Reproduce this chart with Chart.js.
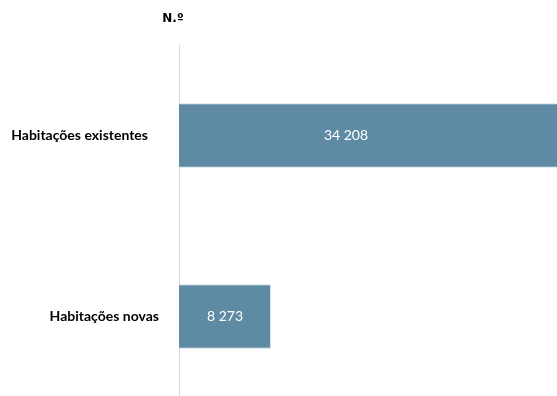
<!DOCTYPE html>
<html>
<head>
<meta charset="utf-8">
<script src="https://cdn.jsdelivr.net/npm/chart.js@4"></script>
<style>
    html, body { margin: 0; padding: 0; background: #fff; overflow: hidden; }
    #wrap { width: 557px; height: 407px; position: relative; }
</style>
</head>
<body>
<div id="wrap"><canvas id="chart"></canvas></div>
<script>
// Data
const categories = ['Habitações existentes', 'Habitações novas'];
const values = [34208, 8273];
const unitLabel = 'N.º';

const BAR_BLUE = '#5e8aa3';
const FONT = 'Lato, "Open Sans", sans-serif';

// format numbers with a space as thousands separator
function formatNumber(n) {
    return String(n).replace(/\B(?=(\d{3})+(?!\d))/g, ' ');
}

// Draws category names, value labels and the unit label
const labelsPlugin = {
    id: 'labelsPlugin',
    afterDatasetsDraw(chart, args, opts) {
        const ctx = chart.ctx;
        const meta = chart.getDatasetMeta(0);
        ctx.save();

        // unit label above the axis
        ctx.fillStyle = '#000';
        ctx.font = 'bold 12px "DejaVu Sans", sans-serif';
        ctx.textAlign = 'center';
        ctx.textBaseline = 'middle';
        ctx.fillText(unitLabel, opts.unitX, opts.unitY);

        meta.data.forEach((bar, i) => {
            // category name
            ctx.fillStyle = '#000';
            ctx.font = 'bold 14px ' + FONT;
            ctx.textAlign = 'right';
            ctx.fillText(categories[i], opts.labelRight[i], bar.y);

            // value inside the bar
            const right = Math.min(bar.x, chart.chartArea.right);
            const cx = (bar.base + right) / 2 + (opts.valueShift[i] || 0);
            ctx.fillStyle = '#fff';
            ctx.font = '14px ' + FONT;
            ctx.textAlign = 'center';
            ctx.fillText(formatNumber(values[i]), cx, bar.y);
        });
        ctx.restore();
    }
};

const config = {
    type: 'bar',
    data: {
        labels: categories,
        datasets: [{
            data: values,
            backgroundColor: BAR_BLUE,
            borderColor: '#d3dfe6',
            borderWidth: 1,
            borderSkipped: 'left',
            barPercentage: 1,
            categoryPercentage: 0.357
        }]
    },
    options: {
        indexAxis: 'y',
        responsive: true,
        maintainAspectRatio: false,
        animation: false,
        layout: {
            padding: { top: 45, right: 0, bottom: 0, left: 0 }
        },
        plugins: {
            legend: { display: false },
            tooltip: { enabled: false },
            labelsPlugin: {
                unitX: 173,
                unitY: 19,
                labelRight: [148, 159],
                valueShift: [-22, 0]
            }
        },
        scales: {
            x: {
                display: false,
                min: 0,
                max: 34000
            },
            y: {
                display: true,
                ticks: { display: false },
                grid: { display: false },
                border: { display: true, color: '#d9d9d9', width: 1 },
                afterFit(scale) {
                    scale.width = 179;
                }
            }
        }
    },
    plugins: [labelsPlugin]
};

new Chart(document.getElementById('chart'), config);
</script>
</body>
</html>
